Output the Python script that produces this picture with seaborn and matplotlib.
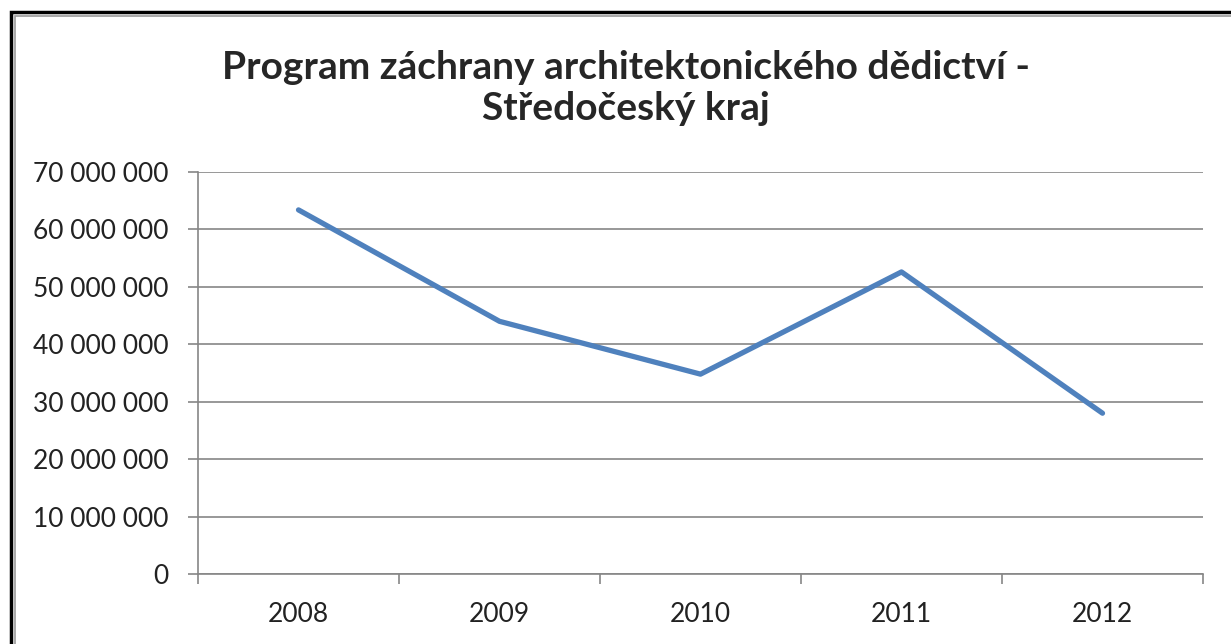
import numpy as np
import pandas as pd
import matplotlib
matplotlib.use("Agg")
import matplotlib.pyplot as plt
import matplotlib.patches as mpatches
from matplotlib.ticker import FuncFormatter, FixedLocator
import seaborn as sns

roky = ["2008", "2009", "2010", "2011", "2012"]
castky = [63_400_000, 44_000_000, 34_800_000, 52_600_000, 28_000_000]

sns.set_style("white")
plt.rcParams["font.family"] = ["Lato", "DejaVu Sans"]

df = pd.DataFrame({"rok": roky, "castka": castky})

fig = plt.figure(figsize=(12.31, 6.44), dpi=100)
ax = fig.add_axes([198 / 1231, 1 - 574 / 644, (1203 - 198) / 1231, (574 - 172) / 644])

sns.lineplot(data=df, x="rok", y="castka", ax=ax, color="#4F81BD", linewidth=3.8, sort=False)

ax.set_ylim(0, 70_000_000)
ax.set_yticks(np.arange(0, 70_000_001, 10_000_000))
ax.yaxis.set_major_formatter(FuncFormatter(lambda v, p: f"{int(v):,}".replace(",", " ")))
ax.set_xlim(-0.5, len(roky) - 0.5)
ax.set_xticks(range(len(roky)))
ax.set_xticklabels(roky)
ax.xaxis.set_minor_locator(FixedLocator(np.arange(-0.5, len(roky), 1.0)))
ax.tick_params(axis="x", which="major", bottom=True, length=0, pad=20, labelsize=19, colors="#222222")
ax.tick_params(axis="x", which="minor", bottom=True, length=7, width=1.2, color="#868686", direction="out")
ax.tick_params(axis="y", left=True, length=7, width=1.2, color="#868686", direction="out", labelsize=19,
               pad=14, labelcolor="#222222")
ax.grid(axis="y", color="#868686", linewidth=1.2)
ax.set_axisbelow(True)
for s in ["top", "right"]:
    ax.spines[s].set_visible(False)
for s in ["left", "bottom"]:
    ax.spines[s].set_color("#868686")
    ax.spines[s].set_linewidth(1.2)
ax.set_xlabel("")
ax.set_ylabel("")

fig.text(626 / 1231, 1 - 88 / 644, "Program záchrany architektonického dědictví -\nStředočeský kraj",
         ha="center", va="center", fontsize=28, fontweight="bold", linespacing=1.2)

# rámeček kolem grafu
fig.patches.append(mpatches.Rectangle((11 / 1231, -0.1), 1.2, 1 - 12 / 644 + 0.1, transform=fig.transFigure,
                                      fill=False, edgecolor="black", linewidth=2.5, clip_on=False))
fig.patches.append(mpatches.Rectangle((14.5 / 1231, -0.1), 1.2, 1 - 16 / 644 + 0.1, transform=fig.transFigure,
                                      fill=False, edgecolor="#999999", linewidth=1.2, clip_on=False))

fig.savefig("out.png", dpi=100)
